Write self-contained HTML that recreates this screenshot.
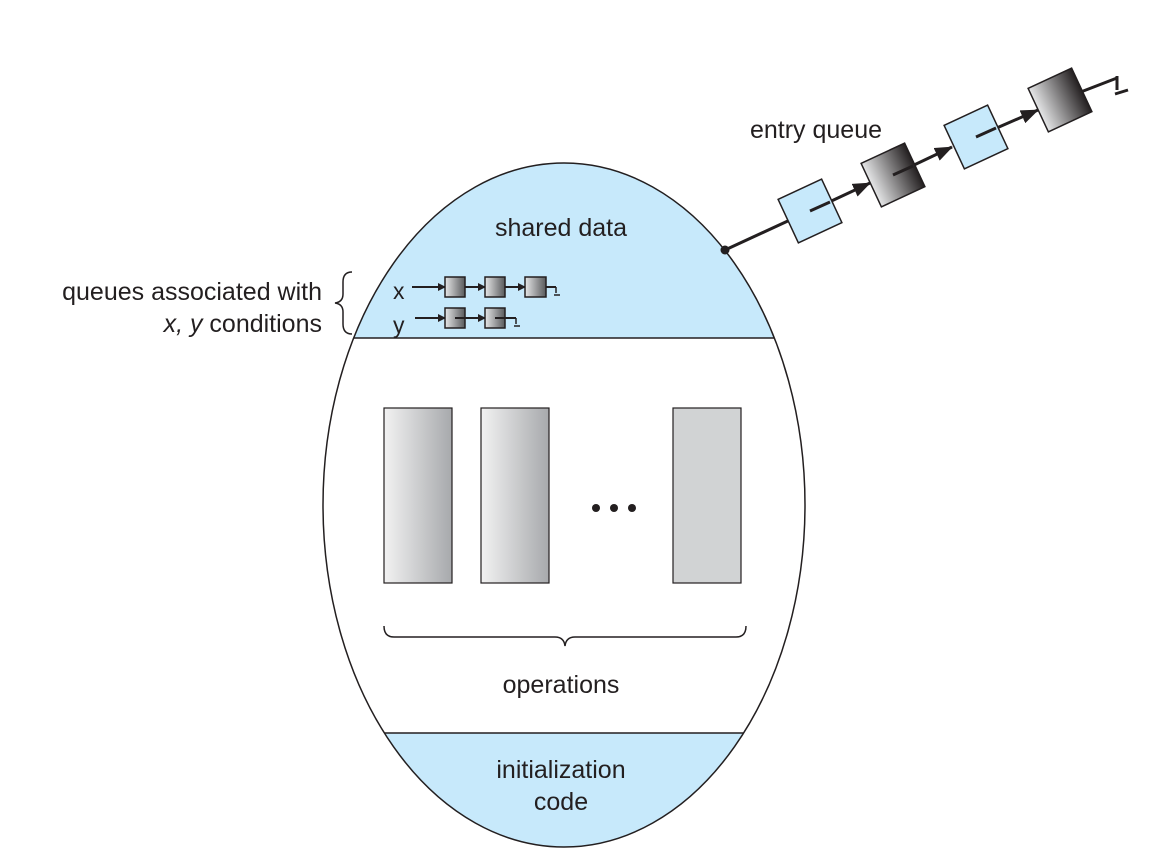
<!DOCTYPE html>
<html><head><meta charset="utf-8"><style>body{margin:0;background:#fff}svg{display:block}text{font-family:"Liberation Sans",sans-serif;fill:#231f20}</style></head><body>
<svg width="1157" height="868" viewBox="0 0 1157 868" xmlns="http://www.w3.org/2000/svg">
<defs>
<clipPath id="ec"><ellipse cx="564" cy="505" rx="241" ry="342"/></clipPath>
<linearGradient id="g1" x1="0" x2="1" y1="0" y2="0"><stop offset="0" stop-color="#f2f2f2"/><stop offset="1" stop-color="#a7a9ac"/></linearGradient>
<linearGradient id="g2" x1="0" x2="1" y1="0" y2="0"><stop offset="0" stop-color="#e6e7e8"/><stop offset="1" stop-color="#231f20"/></linearGradient>
<linearGradient id="g3" x1="0" x2="1"><stop offset="0" stop-color="#e6e7e8"/><stop offset="1" stop-color="#58595b"/></linearGradient>
<marker id="ah" markerWidth="8" markerHeight="8" refX="7" refY="4" orient="auto" markerUnits="userSpaceOnUse"><path d="M0,0L8,4L0,8z" fill="#231f20"/></marker>
<marker id="bh" markerWidth="18" markerHeight="14" refX="17" refY="7" orient="auto" markerUnits="userSpaceOnUse"><path d="M0,0L18,7L0,14z" fill="#231f20"/></marker>
</defs>
<g clip-path="url(#ec)">
<rect x="300" y="150" width="520" height="188" fill="#c7e9fb"/>
<rect x="300" y="733" width="520" height="130" fill="#c7e9fb"/>
</g>
<ellipse cx="564" cy="505" rx="241" ry="342" fill="none" stroke="#231f20" stroke-width="1.5"/>
<line x1="340" y1="338" x2="790" y2="338" stroke="#231f20" stroke-width="1.5" clip-path="url(#ec)"/>
<line x1="340" y1="733" x2="790" y2="733" stroke="#231f20" stroke-width="1.5" clip-path="url(#ec)"/>
<text x="561" y="236" font-size="25" text-anchor="middle">shared data</text>
<text x="561" y="693" font-size="25" text-anchor="middle">operations</text>
<text x="561" y="778" font-size="25" text-anchor="middle">initialization</text>
<text x="561" y="810" font-size="25" text-anchor="middle">code</text>
<text x="322" y="300" font-size="25" text-anchor="end">queues associated with</text>
<text x="322" y="332" font-size="25" text-anchor="end"><tspan font-style="italic">x, y</tspan> conditions</text>
<path d="M352,272 Q343,272 343,282 L343,294 Q343,302 335,303 Q343,304 343,312 L343,324 Q343,334 352,334" fill="none" stroke="#231f20" stroke-width="1.5"/>
<text x="393" y="299" font-size="23">x</text>
<text x="393" y="333" font-size="23">y</text>
<g stroke="#231f20" stroke-width="2">
<line x1="412" y1="287" x2="445" y2="287" marker-end="url(#ah)"/>
<line x1="465" y1="287" x2="485" y2="287" marker-end="url(#ah)"/>
<line x1="505" y1="287" x2="525" y2="287" marker-end="url(#ah)"/>
<line x1="546" y1="287" x2="556" y2="287"/>
<line x1="415" y1="318" x2="445" y2="318" marker-end="url(#ah)"/>
<line x1="455" y1="318" x2="485" y2="318" marker-end="url(#ah)"/>
<line x1="495" y1="318" x2="516" y2="318"/>
</g>
<g stroke="#231f20" stroke-width="1.5">
<line x1="556" y1="287" x2="556" y2="293"/><line x1="554" y1="295" x2="560" y2="295"/>
<line x1="516" y1="318" x2="516" y2="324"/><line x1="514" y1="326" x2="520" y2="326"/>
<rect x="445" y="277" width="20" height="20" fill="url(#g3)"/>
<rect x="485" y="277" width="20" height="20" fill="url(#g3)"/>
<rect x="525" y="277" width="21" height="20" fill="url(#g3)"/>
<rect x="445" y="308" width="20" height="20" fill="url(#g3)"/>
<rect x="485" y="308" width="20" height="20" fill="url(#g3)"/>
</g>
<g stroke="#231f20" stroke-width="2"><line x1="455" y1="318" x2="470" y2="318"/><line x1="495" y1="318" x2="510" y2="318"/></g>
<g stroke="#231f20" stroke-width="1.2">
<rect x="384" y="408" width="68" height="175" fill="url(#g1)"/>
<rect x="481" y="408" width="68" height="175" fill="url(#g1)"/>
<rect x="673" y="408" width="68" height="175" fill="#d1d3d4"/>
</g>
<circle cx="596" cy="508" r="4" fill="#231f20"/><circle cx="614" cy="508" r="4" fill="#231f20"/><circle cx="632" cy="508" r="4" fill="#231f20"/>
<path d="M384,626 Q384,637 394,637 L555,637 Q564,637 565,646 Q566,637 575,637 L736,637 Q746,637 746,626" fill="none" stroke="#231f20" stroke-width="1.5"/>
<text x="816" y="138" font-size="25" text-anchor="middle">entry queue</text>
<g stroke="#231f20" stroke-width="3">
<line x1="725" y1="250" x2="790" y2="220"/>
<line x1="810" y1="211" x2="870" y2="183" marker-end="url(#bh)"/>
<line x1="893" y1="175" x2="952" y2="147" marker-end="url(#bh)"/>
<line x1="976" y1="137" x2="1038" y2="110" marker-end="url(#bh)"/>
<line x1="1060" y1="100" x2="1117" y2="78"/>
<line x1="1117" y1="76" x2="1117" y2="90"/>
<line x1="1115" y1="94" x2="1128" y2="90"/>
</g>
<circle cx="725" cy="250" r="4.5" fill="#231f20"/>
<g stroke="#231f20" stroke-width="1.5">
<rect x="-24" y="-24" width="48" height="48" fill="#c7e9fb" transform="translate(810,211) rotate(-25)"/>
<rect x="-24" y="-24" width="48" height="48" fill="url(#g2)" transform="translate(893,175) rotate(-25)"/>
<rect x="-24" y="-24" width="48" height="48" fill="#c7e9fb" transform="translate(976,137) rotate(-25)"/>
<rect x="-24" y="-24" width="48" height="48" fill="url(#g2)" transform="translate(1060,100) rotate(-25)"/>
</g>
<g stroke="#231f20" stroke-width="3">
<line x1="810" y1="211" x2="830" y2="202"/>
<line x1="893" y1="175" x2="913" y2="166"/>
<line x1="976" y1="137" x2="996" y2="128"/>
</g>
</svg>
</body></html>
